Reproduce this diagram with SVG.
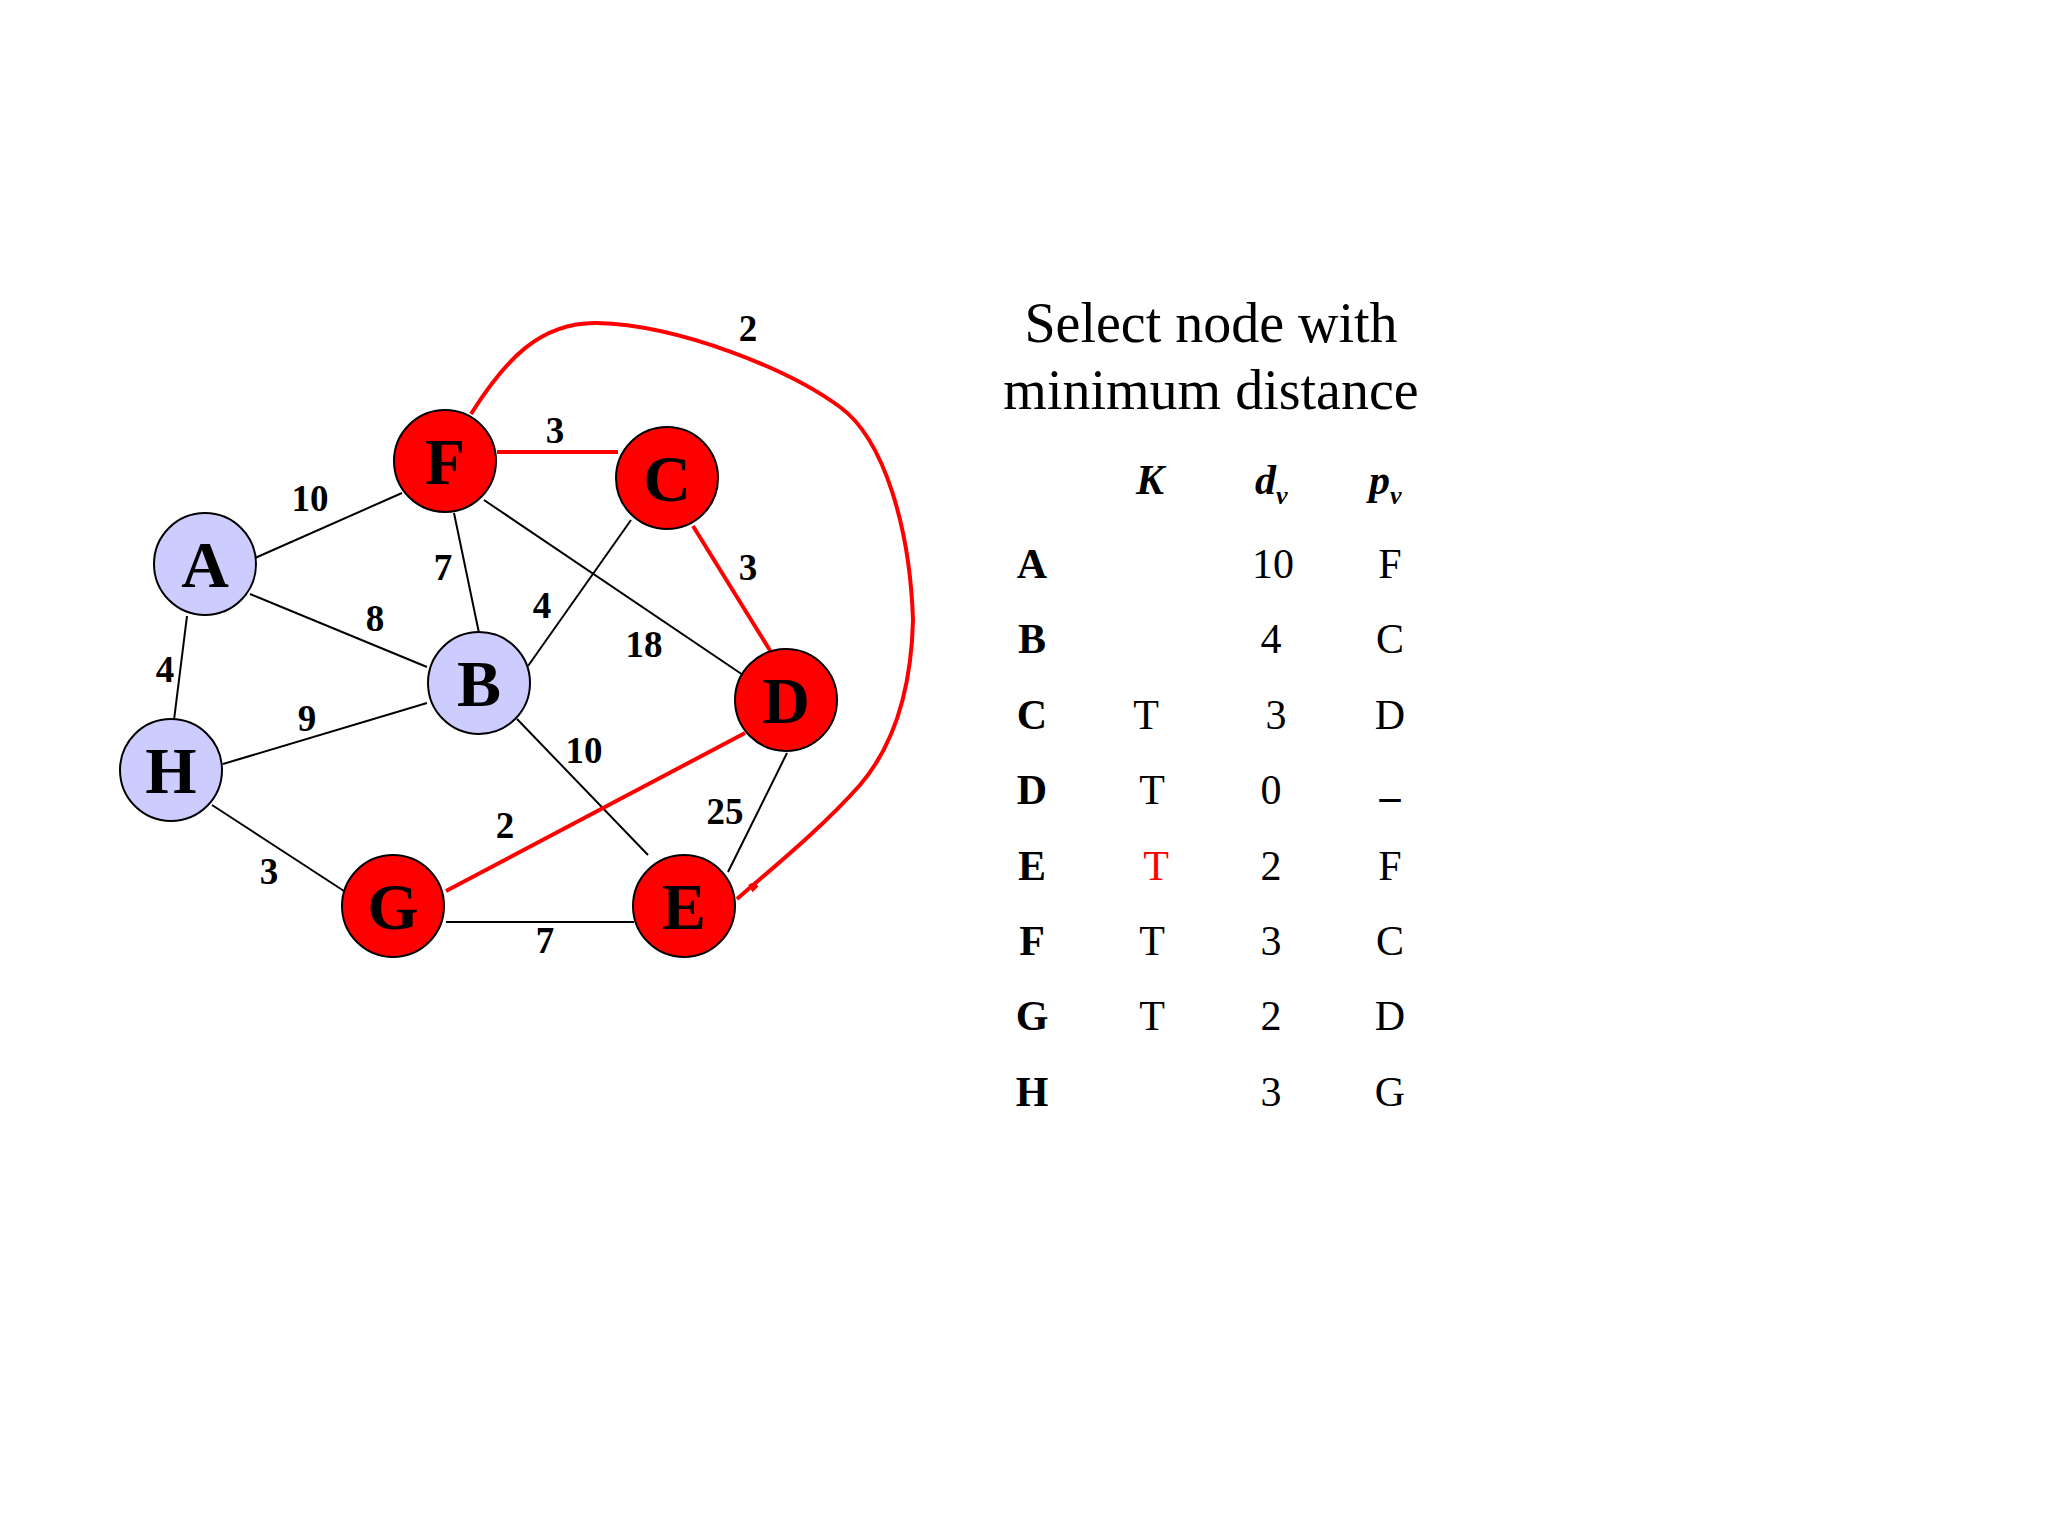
<svg xmlns="http://www.w3.org/2000/svg" width="2048" height="1536" viewBox="0 0 2048 1536">
<style>
.edge{stroke:#000;stroke-width:2;fill:none}
.red{stroke:#ff0000;stroke-width:4;fill:none}
.node{stroke:#000;stroke-width:2}
.sel{fill:#ff0000}
.un{fill:#ccccff}
.nl{font-family:"Liberation Serif",serif;font-weight:bold;font-size:66px;text-anchor:middle;fill:#000}
.el{font-family:"Liberation Serif",serif;font-weight:bold;font-size:37px;text-anchor:middle;fill:#000}
.t{font-family:"Liberation Serif",serif;font-size:42px;text-anchor:middle;fill:#000}
.tb{font-family:"Liberation Serif",serif;font-weight:bold;font-size:42px;text-anchor:middle;fill:#000}
.th{font-family:"Liberation Serif",serif;font-weight:bold;font-style:italic;font-size:42px;fill:#000}
.title{font-family:"Liberation Serif",serif;font-size:56px;text-anchor:middle;fill:#000}
</style>
<rect width="2048" height="1536" fill="#ffffff"/>
<g id="connectors">
<line class="edge" x1="255" y1="558" x2="402" y2="493"/>
<line class="edge" x1="250" y1="594" x2="427" y2="667"/>
<line class="edge" x1="187" y1="616" x2="174" y2="720"/>
<line class="edge" x1="454" y1="513" x2="479" y2="633"/>
<line class="edge" x1="484" y1="500" x2="743" y2="675"/>
<line class="edge" x1="631" y1="520" x2="528" y2="666"/>
<line class="edge" x1="427" y1="703" x2="223" y2="764"/>
<line class="edge" x1="517" y1="719" x2="648" y2="855"/>
<line class="edge" x1="787" y1="753" x2="728" y2="872"/>
<line class="edge" x1="212" y1="805" x2="344" y2="891"/>
<line class="edge" x1="446" y1="922" x2="634" y2="922"/>
<line class="red" x1="497" y1="452" x2="618" y2="452"/>
<line class="red" x1="693" y1="526" x2="771" y2="652"/>
<line class="red" x1="745" y1="733" x2="446" y2="891"/>
<path class="red" d="M 471 414 C 505 360, 540 322, 597 323 C 680 325, 790 370, 840 407 C 885 440, 910 530, 913 620 C 911 700, 890 750, 860 785 C 820 830, 770 870, 737 899"/>
<path class="red" stroke-width="3" d="M 750 884 L 753 889 L 757 885"/>
<text class="el" x="310" y="511">10</text>
<text class="el" x="375" y="631">8</text>
<text class="el" x="165" y="682">4</text>
<text class="el" x="443" y="580">7</text>
<text class="el" x="542" y="618">4</text>
<text class="el" x="644" y="657">18</text>
<text class="el" x="307" y="731">9</text>
<text class="el" x="584" y="763">10</text>
<text class="el" x="725" y="824">25</text>
<text class="el" x="505" y="838">2</text>
<text class="el" x="269" y="884">3</text>
<text class="el" x="545" y="953">7</text>
<text class="el" x="555" y="443">3</text>
<text class="el" x="748" y="580">3</text>
<text class="el" x="748" y="341">2</text>
</g>
<g id="node-A"><circle class="node un" cx="205" cy="564" r="51"/><text class="nl" x="205" y="587">A</text></g>
<g id="node-F"><circle class="node sel" cx="445" cy="461" r="51"/><text class="nl" x="445" y="484">F</text></g>
<g id="node-C"><circle class="node sel" cx="667" cy="478" r="51"/><text class="nl" x="667" y="501">C</text></g>
<g id="node-B"><circle class="node un" cx="479" cy="683" r="51"/><text class="nl" x="479" y="706">B</text></g>
<g id="node-D"><circle class="node sel" cx="786" cy="700" r="51"/><text class="nl" x="786" y="723">D</text></g>
<g id="node-H"><circle class="node un" cx="171" cy="770" r="51"/><text class="nl" x="171" y="793">H</text></g>
<g id="node-G"><circle class="node sel" cx="393" cy="906" r="51"/><text class="nl" x="393" y="929">G</text></g>
<g id="node-E"><circle class="node sel" cx="684" cy="906" r="51"/><text class="nl" x="684" y="929">E</text></g>
<g id="title">
<text class="title" x="1211" y="342">Select node with</text>
<text class="title" x="1211" y="409">minimum distance</text>
</g>
<g id="table">
<text class="th" x="1136" y="494">K</text>
<text class="th" x="1255" y="494">d<tspan font-size="26" dy="10">v</tspan></text>
<text class="th" x="1369" y="494">p<tspan font-size="26" dy="10">v</tspan></text>
<text class="tb" x="1032" y="578">A</text><text class="t" x="1273" y="578">10</text><text class="t" x="1390" y="578">F</text>
<text class="tb" x="1032" y="653">B</text><text class="t" x="1271" y="653">4</text><text class="t" x="1390" y="653">C</text>
<text class="tb" x="1032" y="729">C</text><text class="t" x="1146" y="729">T</text><text class="t" x="1276" y="729">3</text><text class="t" x="1390" y="729">D</text>
<text class="tb" x="1032" y="804">D</text><text class="t" x="1152" y="804">T</text><text class="t" x="1271" y="804">0</text><text class="tb" x="1390" y="810">–</text>
<text class="tb" x="1032" y="880">E</text><text class="t" x="1156" y="880" style="fill:#ff0000">T</text><text class="t" x="1271" y="880">2</text><text class="t" x="1390" y="880">F</text>
<text class="tb" x="1032" y="955">F</text><text class="t" x="1152" y="955">T</text><text class="t" x="1271" y="955">3</text><text class="t" x="1390" y="955">C</text>
<text class="tb" x="1032" y="1030">G</text><text class="t" x="1152" y="1030">T</text><text class="t" x="1271" y="1030">2</text><text class="t" x="1390" y="1030">D</text>
<text class="tb" x="1032" y="1106">H</text><text class="t" x="1271" y="1106">3</text><text class="t" x="1390" y="1106">G</text>
</g>
</svg>
